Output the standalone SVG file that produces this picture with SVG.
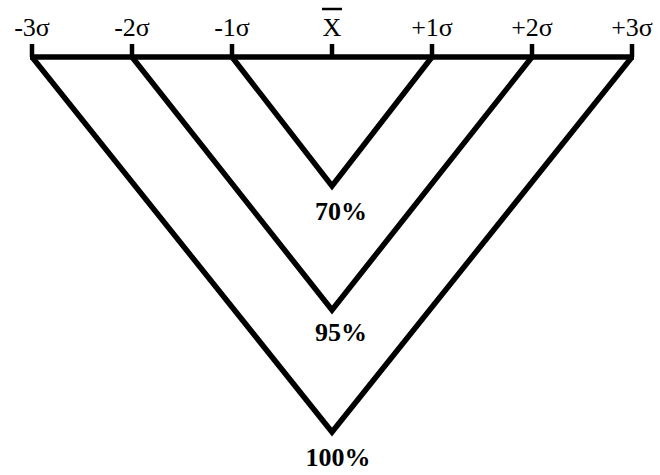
<svg xmlns="http://www.w3.org/2000/svg" width="660" height="475" viewBox="0 0 660 475">
<style>
.ln{fill:none;stroke:#000;stroke-width:5.5;stroke-linejoin:miter;stroke-linecap:butt}
.tk{stroke:#000;stroke-width:4.5}
.top{font-family:"Liberation Serif","Times New Roman",Tinos,serif;font-size:26px;fill:#000;text-anchor:middle}
.pct{font-family:"Liberation Serif","Times New Roman",Tinos,serif;font-size:26px;font-weight:bold;fill:#000;text-anchor:middle}
</style>
<rect width="660" height="475" fill="#fff"/>
<g id="axis">
<line class="ln" x1="30" y1="57" x2="634" y2="57"/>
<line class="tk" x1="32" y1="44" x2="32" y2="57"/>
<line class="tk" x1="132" y1="44" x2="132" y2="57"/>
<line class="tk" x1="232" y1="44" x2="232" y2="57"/>
<line class="tk" x1="332" y1="44" x2="332" y2="57"/>
<line class="tk" x1="432" y1="44" x2="432" y2="57"/>
<line class="tk" x1="532" y1="44" x2="532" y2="57"/>
<line class="tk" x1="632" y1="44" x2="632" y2="57"/>
</g>
<g id="labels">
<text class="top" x="32" y="36">-3σ</text>
<text class="top" x="132" y="36">-2σ</text>
<text class="top" x="232" y="36">-1σ</text>
<text class="top" x="332" y="36">X</text>
<line x1="322" y1="9" x2="342" y2="9" stroke="#000" stroke-width="2.5"/>
<text class="top" x="432" y="36">+1σ</text>
<text class="top" x="532" y="36">+2σ</text>
<text class="top" x="632" y="36">+3σ</text>
</g>
<g id="connectors">
<polyline id="v70" class="ln" points="232,57 332,186 432,57"/>
<polyline id="v95" class="ln" points="132,57 332,310 532,57"/>
<polyline id="v100" class="ln" points="32,57 332,432 632,57"/>
</g>
<g id="n70"><text class="pct" x="341" y="220">70%</text></g>
<g id="n95"><text class="pct" x="341" y="341">95%</text></g>
<g id="n100"><text class="pct" x="338" y="466">100%</text></g>
</svg>
